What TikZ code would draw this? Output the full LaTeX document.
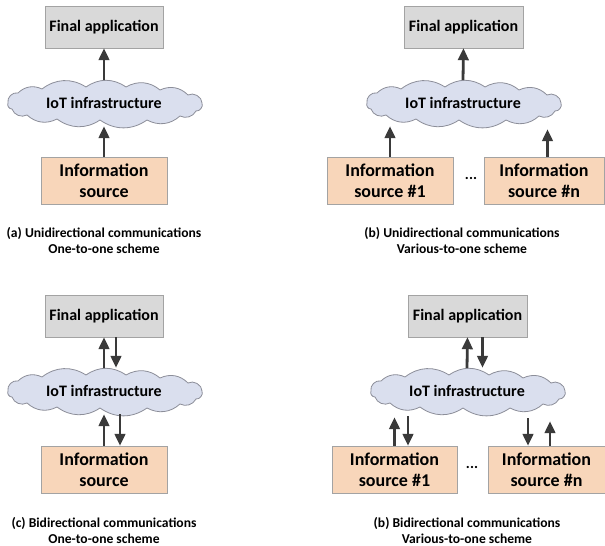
\documentclass[tikz,border=0pt]{standalone}
\usepackage{fontspec}
\setmainfont{Carlito}
\usetikzlibrary{arrows.meta,backgrounds}
\definecolor{arrowc}{HTML}{3A3A3A}
\definecolor{boxline}{HTML}{A3A3A3}
\definecolor{fagray}{HTML}{D9D9D9}
\definecolor{srcfill}{HTML}{F8D6BA}
\definecolor{cloudfill}{HTML}{DADFEE}
\definecolor{cloudline}{HTML}{8C8E99}
\newcommand{\iotcloud}[1]{%
  \begin{scope}[on background layer, shift={(#1.center)}]
    \draw[cloudshape] (-96,0) to[bend left=60] (-86,-10) to[bend left=35] (-62,-14)
      to[bend left=35] (-18,-16) to[bend left=35] (22,-16) to[bend left=35] (56,-13)
      to[bend left=35] (84,-8) to[bend left=60] (98,0) to[bend left=60] (92,8)
      to[bend left=45] (76,13) to[bend left=35] (43,17) to[bend left=35] (-4,17)
      to[bend left=35] (-47,16) to[bend left=35] (-77,12) to[bend left=50] (-92,6)
      to[bend left=60] (-96,0) -- cycle;
  \end{scope}}
\begin{document}
\begin{tikzpicture}[x=1pt,y=-1pt,
  arr/.style={draw=arrowc, line width=2.8pt, -{Triangle[length=12pt,width=10.5pt]}},
  fabox/.style={draw=boxline, fill=fagray, minimum width=118pt, minimum height=42pt, inner sep=0pt,
     font=\bfseries\fontsize{16}{18}\selectfont},
  srcbox/.style={draw=boxline, fill=srcfill, minimum height=47pt, inner sep=0pt, align=center,
     font=\bfseries\fontsize{18}{21}\selectfont},
  iot/.style={rectangle, minimum width=192pt, minimum height=46pt, inner sep=0pt,
     font=\bfseries\fontsize{16}{18}\selectfont},
  cloudshape/.style={draw=cloudline, fill=cloudfill, line width=0.8pt, line join=round},
  captxt/.style={align=center, font=\bfseries\fontsize{13.6}{16}\selectfont},
  dotstxt/.style={font=\bfseries\fontsize{15}{18}\selectfont}
]
\begin{scope}[on background layer]
\fill[white] (0,0) rectangle (605,546);
\end{scope}
\useasboundingbox (0,0) rectangle (605,546);

% (a)
\node[fabox] (faA) at (104,27) {Final application};
\node[iot] (clA) at (104,103) {IoT infrastructure};
\iotcloud{clA}
\node[srcbox, minimum width=126pt] (srcA) at (104,180.5) {Information\\source};
\node[captxt] (capA) at (104,240) {(a) Unidirectional communications\\One-to-one scheme};
\draw[arr] (srcA.north) -- (clA.south);
\draw[arr] (clA.north) -- (faA.south);

% (b)
\node[fabox, minimum width=119pt] (faB) at (463.5,27) {Final application};
\node[iot] (clB) at (463,103) {IoT infrastructure};
\iotcloud{clB}
\node[srcbox, minimum width=126pt] (srcB1) at (390,180.5) {Information\\source \#1};
\node[srcbox, minimum width=120pt] (srcBn) at (544,180.5) {Information\\source \#n};
\node[dotstxt] (dotsB) at (471,178) {...};
\node[captxt] (capB) at (462,240) {(b) Unidirectional communications\\Various-to-one scheme};
\draw[arr] (clB.north) -- (faB.south);
\draw[arr] (srcB1.north) -- (srcB1.north |- clB.south);
\draw[arr, shorten >=3pt] ([xshift=3.5pt]srcBn.north) -- ([xshift=3.5pt]srcBn.north |- clB.south);

% (c)
\node[fabox] (faC) at (104,316) {Final application};
\node[iot] (clC) at (104,391) {IoT infrastructure};
\iotcloud{clC}
\node[srcbox, minimum width=126pt] (srcC) at (104,469.5) {Information\\source};
\node[captxt] (capC) at (104,530) {(c) Bidirectional communications\\One-to-one scheme};
\draw[arr] (clC.north) -- (faC.south);
\draw[arr] ([xshift=12pt]faC.south) -- ([xshift=12pt]faC.south |- clC.north);
\draw[arr] (srcC.north) -- (clC.south);
\draw[arr] ([xshift=16pt]srcC.north |- clC.south) -- ([xshift=16pt]srcC.north);

% (d)
\node[fabox, minimum width=119pt] (faD) at (467.5,316) {Final application};
\node[iot] (clD) at (467,391) {IoT infrastructure};
\iotcloud{clD}
\node[srcbox, minimum width=125pt] (srcD1) at (394.5,469.5) {Information\\source \#1};
\node[srcbox, minimum width=117pt] (srcDn) at (546.5,469.5) {Information\\source \#n};
\node[dotstxt] (dotsD) at (472,467) {...};
\node[captxt] (capD) at (467,530) {(b) Bidirectional communications\\Various-to-one scheme};
\draw[arr] (clD.north) -- (faD.south);
\draw[arr] ([xshift=15pt]faD.south) -- ([xshift=15pt]faD.south |- clD.north);
\draw[arr, shorten >=3pt] (srcD1.north) -- (srcD1.north |- clD.south);
\draw[arr, shorten <=2pt] ([xshift=13.5pt]srcD1.north |- clD.south) -- ([xshift=13.5pt]srcD1.north);
\draw[arr, shorten <=4pt] ([xshift=-18.5pt]srcDn.north |- clD.south) -- ([xshift=-18.5pt]srcDn.north);
\draw[arr, shorten >=7pt] ([xshift=3.5pt]srcDn.north) -- ([xshift=3.5pt]srcDn.north |- clD.south);
\end{tikzpicture}
\end{document}
